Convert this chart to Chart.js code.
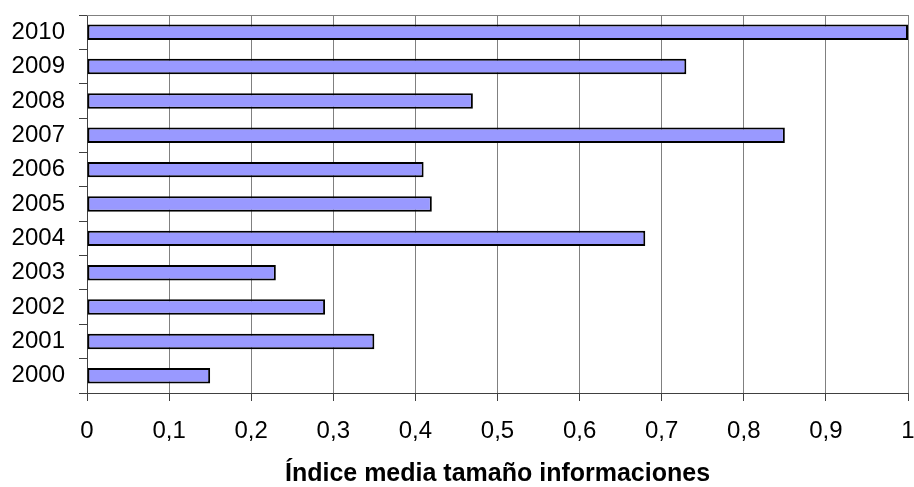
<!DOCTYPE html>
<html lang="es">
  <head>
    <meta charset="UTF-8" />
    <title>Índice media tamaño informaciones</title>
    <script src="https://cdn.jsdelivr.net/npm/chart.js"></script>
    <style>
      html, body { margin: 0; padding: 0; background: #ffffff; }
      #wrap { width: 914px; height: 487px; }
    </style>
  </head>
  <body>
    <div id="wrap"><canvas id="chart" width="914" height="487"></canvas></div>

    <script>
      // data (top to bottom)
      const years = ["2010", "2009", "2008", "2007", "2006", "2005", "2004", "2003", "2002", "2001", "2000"];
      const indexValues = [1.0, 0.73, 0.47, 0.85, 0.41, 0.42, 0.68, 0.23, 0.29, 0.35, 0.15];
      const xTicks = [0, 0.1, 0.2, 0.3, 0.4, 0.5, 0.6, 0.7, 0.8, 0.9, 1];
      const axisTitle = "Índice media tamaño informaciones";

      const FONT = "'Liberation Sans', Arial, sans-serif";

      // thin grey line along the top of the plot area
      const topBorder = {
        id: "topBorder",
        afterDatasetsDraw(chart) {
          const {ctx, chartArea} = chart;
          ctx.save();
          ctx.strokeStyle = "#808080";
          ctx.lineWidth = 1;
          ctx.beginPath();
          ctx.moveTo(chartArea.left, Math.round(chartArea.top) + 0.5);
          ctx.lineTo(chartArea.right, Math.round(chartArea.top) + 0.5);
          ctx.stroke();
          ctx.restore();
        },
      };

      new Chart(document.getElementById("chart"), {
        type: "bar",
        data: {
          labels: years,
          datasets: [
            {
              data: indexValues,
              backgroundColor: "#9999ff",
              borderColor: "#000000",
              borderWidth: 2,
              borderSkipped: false,
              categoryPercentage: 1,
              barPercentage: 0.45,
            },
          ],
        },
        options: {
          indexAxis: "y",
          responsive: false,
          animation: false,
          layout: {padding: {top: 15, right: 0, left: 0, bottom: 0}},
          plugins: {
            legend: {display: false},
            tooltip: {enabled: false},
          },
          scales: {
            x: {
              min: 0,
              max: 1,
              afterBuildTicks: axis => {
                axis.ticks = xTicks.map(v => ({value: v}));
              },
              afterFit: axis => {
                axis.paddingLeft = 0;
                axis.paddingRight = 6;
                axis.height = 94;
              },
              ticks: {
                color: "#000000",
                padding: 16,
                font: {family: FONT, size: 24},
                callback: v => String(Math.round(v * 10) / 10).replace(".", ","),
              },
              grid: {
                color: "#808080",
                lineWidth: 1,
                tickLength: 8,
                tickColor: "#404040",
              },
              border: {color: "#404040", width: 1},
              title: {
                display: true,
                text: axisTitle,
                color: "#000000",
                font: {family: FONT, size: 25, weight: "bold"},
                padding: {top: 4, bottom: -2},
              },
            },
            y: {
              offset: true,
              afterFit: axis => {
                axis.paddingTop = 0;
                axis.paddingBottom = 0;
                axis.width = 87;
              },
              ticks: {
                color: "#000000",
                padding: 14,
                font: {family: FONT, size: 24},
              },
              grid: {
                offset: true,
                drawOnChartArea: false,
                tickLength: 8,
                tickColor: "#404040",
              },
              border: {color: "#404040", width: 1},
            },
          },
        },
        plugins: [topBorder],
      });
    </script>
  </body>
</html>
